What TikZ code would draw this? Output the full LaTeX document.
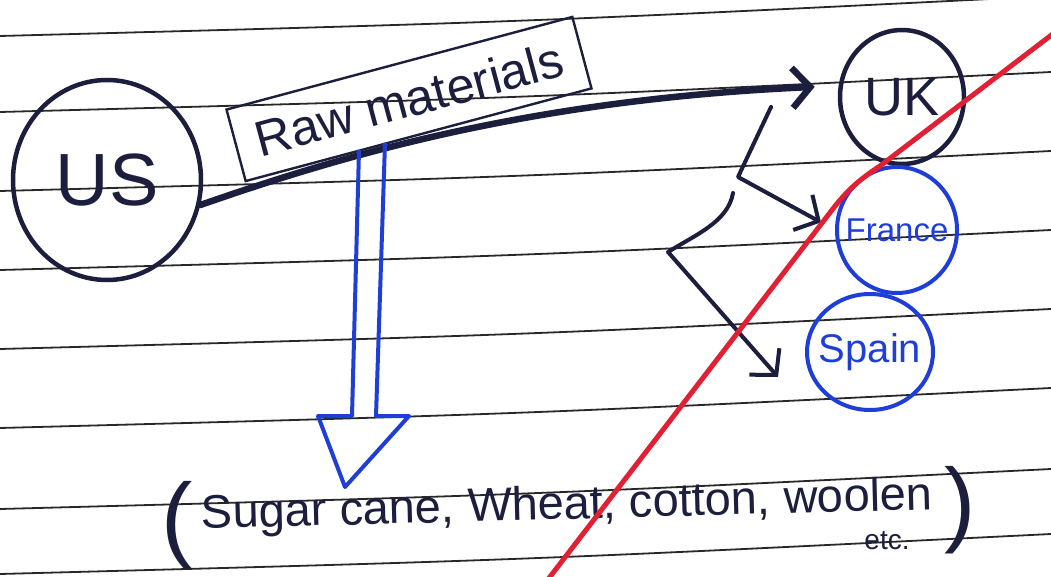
\documentclass[tikz,border=0pt]{standalone}
\usepackage{fontspec}
\setmainfont{Liberation Sans}
\usetikzlibrary{arrows.meta,shapes.geometric}
\definecolor{inknavy}{RGB}{28,30,62}
\definecolor{inkblue}{RGB}{30,62,215}
\definecolor{inkred}{RGB}{226,32,52}
\definecolor{ruleline}{RGB}{40,40,40}

\begin{document}
\begin{tikzpicture}[x=1pt, y=-1pt,
    country/.style={ellipse, draw=inknavy, line width=4.5pt, inner sep=0pt, text=inknavy},
    bluecountry/.style={country, draw=inkblue, line width=4pt, text=inkblue},
    inkarrow/.style={draw=inknavy, line width=4pt, line cap=round, line join=round,
        -{Straight Barb[length=18pt, width=40pt]}}]
    \useasboundingbox (0,0) rectangle (1051,577);
    \fill[white] (0,0) rectangle (1051,577);

    % ruled paper
    \foreach \yl in {36,112,191,270,349,428,509,574}
        \draw[ruleline, line width=1.8pt] (0,\yl) .. controls (525,{\yl-14}) .. (1051,{\yl-40});

    % countries
    \node[country, minimum width=188pt, minimum height=200pt, font=\fontsize{74}{74}\selectfont] (us) at (107,180) {US};
    \node[country, minimum width=124pt, minimum height=134pt, font=\fontsize{54}{54}\selectfont] (uk) at (902,97) {UK};
    \node[bluecountry, inner xsep=-15pt, minimum width=120pt, minimum height=126pt, font=\fontsize{33}{33}\selectfont] (france) at (897,230) {France};
    \node[bluecountry, inner xsep=-13pt, minimum width=126pt, minimum height=116pt, font=\fontsize{40}{40}\selectfont] (spain) at (870,352) {Spain};

    % raw materials box
    \node[rotate=15, draw=inknavy, line width=2.4pt, minimum width=358pt, minimum height=74pt,
        text=inknavy, font=\fontsize{50}{50}\selectfont] (raw) at (409,99) {Raw materials};

    % US to UK
    \draw[inkarrow, line width=6.5pt, shorten >=24pt] (us.-15) .. controls (330,160) and (520,100) .. (uk.170);

    % branches to France and Spain
    \coordinate (fork1) at (771,107);
    \coordinate (fork2) at (733,193);
    \coordinate (tipS) at (778,377);
    \draw[inkarrow, shorten >=16pt] (fork1) -- (738,177) -- (france.west);
    \draw[inkarrow] (fork2) .. controls (728,222) and (695,235) .. (668,252) -- (tipS);

    % hollow blue arrow down to the goods
    \draw[inkblue, line width=4pt, line join=round]
        (359,150) -- (352,416) -- (318,416) -- (345,487) -- (409,416) -- (376,416) -- (385,143);

    % goods
    \node[rotate=1.5, text=inknavy, font=\fontsize{47}{47}\selectfont] (goods) at (567,507) {Sugar cane, Wheat, cotton, woolen};
    \node[text=inknavy, font=\fontsize{28}{28}\selectfont] (etc) at (887,541) {etc.};
    \node[text=inknavy, font=\fontsize{94}{94}\selectfont] (lpar) at (177,525) {(};
    \node[text=inknavy, font=\fontsize{94}{94}\selectfont] (rpar) at (960,510) {)};

    % red strike
    \draw[inkred, line width=5pt, line cap=round]
        (546,582) -- (832,210) .. controls (845,193) and (857,181) .. (880,166) -- (1058,30);
\end{tikzpicture}
\end{document}
